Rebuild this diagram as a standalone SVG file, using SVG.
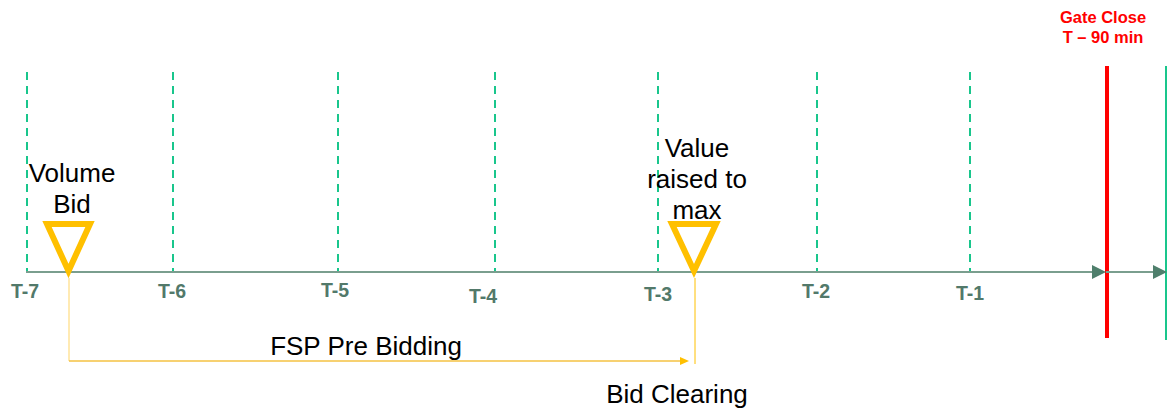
<svg xmlns="http://www.w3.org/2000/svg" width="1168" height="410" viewBox="0 0 1168 410">
<style>
.tick{stroke:#19c68c;stroke-width:2;stroke-dasharray:8 6;fill:none}
.axis{stroke:#7a9e8e;stroke-width:2;fill:none}
.ah{fill:#4f7f6c}
.tl{font-family:"Liberation Sans",Arial,sans-serif;font-weight:bold;font-size:19.5px;fill:#52796a;text-anchor:middle}
.lbl{font-family:"Liberation Sans",Arial,sans-serif;font-size:26px;fill:#000;text-anchor:middle}
.gc{font-family:"Liberation Sans",Arial,sans-serif;font-weight:bold;font-size:16.5px;fill:#ff0000;text-anchor:middle}
.tri{fill:none;stroke:#ffc000;stroke-width:6;stroke-linejoin:miter;stroke-miterlimit:10}
</style>
<rect width="1168" height="410" fill="#fff"/>
<g id="ticks">
<line class="tick" x1="27" y1="72" x2="27" y2="272"/>
<line class="tick" x1="173" y1="72" x2="173" y2="272"/>
<line class="tick" x1="338" y1="72" x2="338" y2="272"/>
<line class="tick" x1="495" y1="72" x2="495" y2="272"/>
<line class="tick" x1="658" y1="72" x2="658" y2="272"/>
<line class="tick" x1="817" y1="72" x2="817" y2="272"/>
<line class="tick" x1="970" y1="72" x2="970" y2="272"/>
</g>
<g id="tick-labels">
<text class="tl" x="25" y="298">T-7</text>
<text class="tl" x="172" y="298">T-6</text>
<text class="tl" x="335" y="297">T-5</text>
<text class="tl" x="483" y="303">T-4</text>
<text class="tl" x="658" y="301">T-3</text>
<text class="tl" x="816" y="298">T-2</text>
<text class="tl" x="970" y="300">T-1</text>
</g>
<g id="gate-close">
<line x1="1107" y1="66" x2="1107" y2="338" stroke="#ff0000" stroke-width="4"/>
<text class="gc" x="1103" y="23">Gate Close</text>
<text class="gc" x="1103" y="43">T – 90 min</text>
</g>
<g id="end-line">
<line x1="1166" y1="66" x2="1166" y2="340" stroke="#19c68c" stroke-width="2"/>
</g>
<g id="connectors">
<line class="axis" x1="26" y1="272" x2="1093" y2="272"/>
<polygon class="ah" points="1092,265 1106,272 1092,279"/>
<line class="axis" x1="1106" y1="272" x2="1154" y2="272"/>
<polygon class="ah" points="1153,265 1167,272 1153,279"/>
<line x1="69" y1="278" x2="69" y2="361" stroke="#ffe39a" stroke-width="1.5"/>
<line x1="69" y1="361" x2="682" y2="361" stroke="#f5c242" stroke-width="1.5"/>
<polygon points="680,357 689,361 680,365" fill="#ffc000"/>
<line x1="695" y1="278" x2="695" y2="364" stroke="#ffc000" stroke-width="1"/>
</g>
<g id="volume-bid">
<path class="tri" d="M47,224 H90 L68.5,271 Z"/>
<text class="lbl" x="72" y="182">Volume</text>
<text class="lbl" x="72" y="213">Bid</text>
</g>
<g id="value-raised">
<path class="tri" d="M672,224 H716 L694,271 Z"/>
<text class="lbl" x="697" y="157">Value</text>
<text class="lbl" x="697" y="188">raised to</text>
<text class="lbl" x="697" y="219">max</text>
</g>
<g id="fsp-pre-bidding">
<text class="lbl" x="366" y="355">FSP Pre Bidding</text>
</g>
<g id="bid-clearing">
<text class="lbl" x="677" y="403">Bid Clearing</text>
</g>
</svg>
